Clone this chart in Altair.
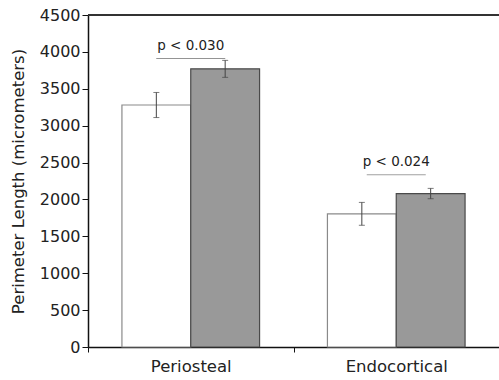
import altair as alt
import pandas as pd

sites = ["Periosteal", "Endocortical"]
groups = ["Group 1", "Group 2"]
means_g1 = [3280, 1805]
means_g2 = [3770, 2080]
err_g1 = [170, 155]
err_g2 = [115, 70]
sig_sites = ["Periosteal", "Endocortical"]
sig_y = [3910, 2335]
sig_text = ["p < 0.030", "p < 0.024"]
y_ticks = list(range(0, 4501, 500))

rows = []
for g, ms, es in [(groups[0], means_g1, err_g1), (groups[1], means_g2, err_g2)]:
    for s, m, e in zip(sites, ms, es):
        rows.append(dict(site=s, group=g, mean=m, lo=m - e, hi=m + e))
df = pd.DataFrame(rows)
sig = pd.DataFrame(dict(site=sig_sites, y=sig_y, label=sig_text))

W, H = 411, 332
FONT = "DejaVu Sans"

x_axis = alt.Axis(title=None, labelAngle=0, tickBand="extent", tickSize=5,
                  labelPadding=6, labelFontSize=16.5, domainWidth=1.5,
                  domainColor="#111", tickColor="#111", labelColor="#222",
                  labelFont=FONT)
y_axis = alt.Axis(title="Perimeter Length (micrometers)", values=y_ticks,
                  format="d", grid=False, tickSize=6, labelFontSize=16,
                  labelOverlap=False,
                  titleFontSize=16.5, titleFontWeight="normal",
                  titleFont=FONT, labelFont=FONT, labelPadding=2,
                  titlePadding=13, domainWidth=1.5, domainColor="#111",
                  tickColor="#111", labelColor="#222", titleColor="#222")
x_scale = alt.Scale(paddingInner=0, paddingOuter=0)
y_scale = alt.Scale(domain=[0, 4500], nice=False)

def X():
    return alt.X("site:N", sort=sites, scale=x_scale, axis=x_axis)

def Y(field):
    return alt.Y(field, type="quantitative", scale=y_scale, axis=y_axis)

xo_enc = alt.XOffset("group:N", sort=groups,
                     scale=alt.Scale(paddingInner=0, paddingOuter=0.493))

bars = alt.Chart(df).mark_bar(strokeWidth=1.2).encode(
    x=X(),
    xOffset=xo_enc,
    y=Y("mean"),
    fill=alt.Fill("group:N", sort=groups,
                  scale=alt.Scale(domain=groups, range=["#ffffff", "#999999"]),
                  legend=None),
    stroke=alt.Stroke("group:N", sort=groups,
                      scale=alt.Scale(domain=groups, range=["#8a8a8a", "#4a4a4a"]),
                      legend=None),
)

err = alt.Chart(df).mark_rule(color="#444", strokeWidth=1).encode(
    x=X(), xOffset=xo_enc, y=Y("lo"), y2="hi:Q")
cap_lo = alt.Chart(df).mark_tick(orient="horizontal", size=6, thickness=1, color="#444").encode(
    x=X(), xOffset=xo_enc, y=Y("lo"))
cap_hi = alt.Chart(df).mark_tick(orient="horizontal", size=6, thickness=1, color="#444").encode(
    x=X(), xOffset=xo_enc, y=Y("hi"))

sig_line1 = alt.Chart(sig).transform_filter(alt.datum.site == sites[0]).mark_tick(
    orient="horizontal", size=69, thickness=1, color="#666").encode(
    x=X(), y=Y("y"))
sig_line2 = alt.Chart(sig).transform_filter(alt.datum.site == sites[1]).mark_tick(
    orient="horizontal", size=59, thickness=1, color="#777").encode(
    x=X(), y=Y("y"))
sig_lab = alt.Chart(sig).mark_text(baseline="bottom", dy=-6, fontSize=13.5,
                                   font=FONT, color="#222").encode(
    x=X(), y=Y("y"), text="label:N")

top = alt.Chart(sig).mark_rule(color="#333", strokeWidth=2).encode(
    y=alt.Y(datum=4500, type="quantitative", scale=y_scale, axis=y_axis),
    x=alt.value(0), x2=alt.value(W))

chart = alt.layer(bars, err, cap_lo, cap_hi, sig_line1, sig_line2, sig_lab, top).properties(
    width=W, height=H,
    autosize=alt.AutoSizeParams(type="none"),
    padding={"left": 88, "top": 15, "right": 0, "bottom": 33},
    background="white",
).configure_view(stroke=None)

chart.save("out.html", embed_options={"renderer": "svg", "actions": False})
